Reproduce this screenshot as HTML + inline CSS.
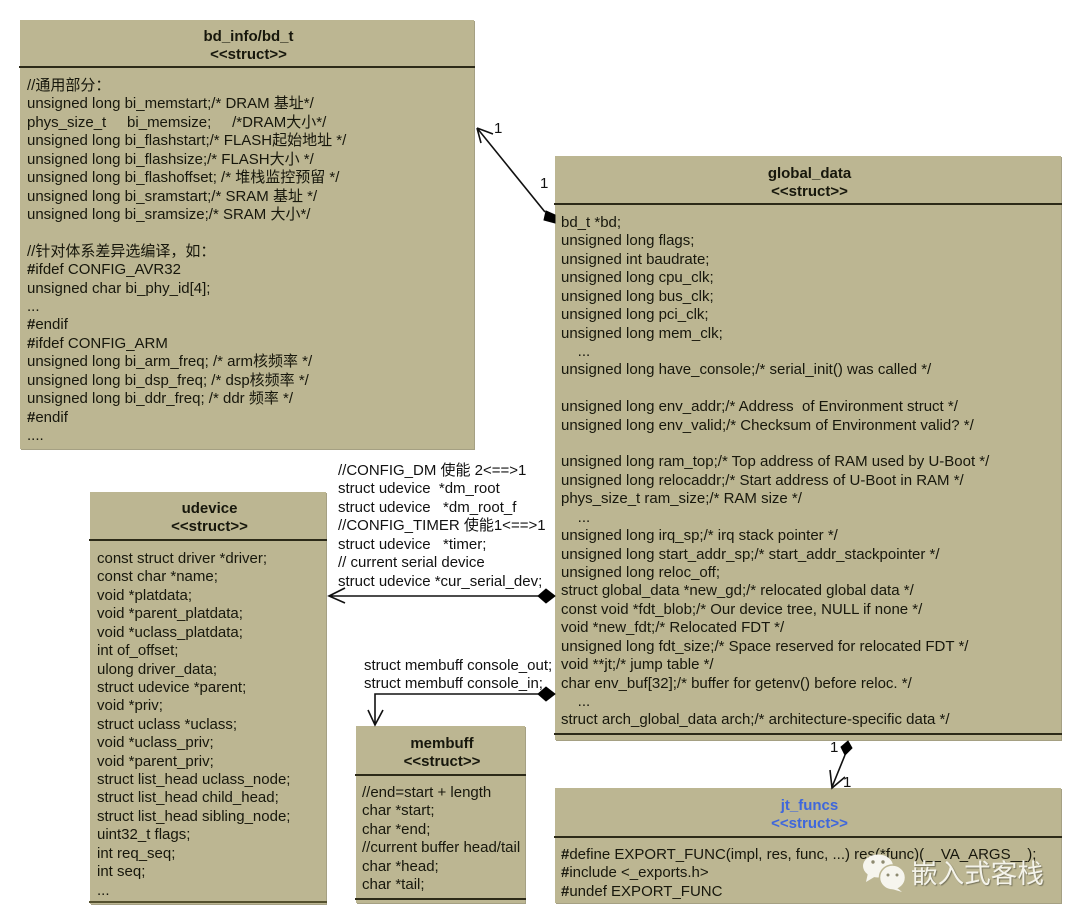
<!DOCTYPE html>
<html><head><meta charset="utf-8">
<style>
html,body{margin:0;padding:0;background:#fff}
#p{position:relative;width:1080px;height:922px;overflow:hidden;background:#fff;font-family:"Liberation Sans","Noto Sans CJK SC",sans-serif;color:#17170c}
.b{position:absolute;background:#bcb692;box-shadow:1px 1px 0 #a5a083}
.h{position:absolute;left:-1px;right:-1px;height:2px;background:#2c2a18}
.t{position:absolute;white-space:pre;font-size:15px;line-height:18.42px}
.c{position:absolute;left:3px;right:0;text-align:center;font-weight:bold;font-size:15px;line-height:18.4px;white-space:pre}
.l{position:absolute;white-space:pre;font-size:15px;line-height:18.42px;color:#111}
svg{position:absolute;left:0;top:0}
b{font-weight:bold}
</style></head><body><div id="p">

<div class="b" style="left:20px;top:20px;width:454px;height:429px">
<div class="c" style="top:8px">bd_info/bd_t
&lt;&lt;struct&gt;&gt;</div>
<div class="h" style="top:46px"></div>
<div class="t" style="left:7px;top:57px">//通用部分：
unsigned long bi_memstart;/* DRAM 基址*/
phys_size_t     bi_memsize;     /*DRAM大小*/
unsigned long bi_flashstart;/* FLASH起始地址 */
unsigned long bi_flashsize;/* FLASH大小 */
unsigned long bi_flashoffset; /* 堆栈监控预留 */
unsigned long bi_sramstart;/* SRAM 基址 */
unsigned long bi_sramsize;/* SRAM 大小*/

//针对体系差异选编译，如：
<b>#</b>ifdef CONFIG_AVR32
unsigned char bi_phy_id[4];
...
<b>#</b>endif
<b>#</b>ifdef CONFIG_ARM
unsigned long bi_arm_freq; /* arm核频率 */
unsigned long bi_dsp_freq; /* dsp核频率 */
unsigned long bi_ddr_freq; /* ddr 频率 */
<b>#</b>endif
....</div>
</div>

<div class="b" style="left:555px;top:156px;width:506px;height:584px">
<div class="c" style="top:9px">global_data
&lt;&lt;struct&gt;&gt;</div>
<div class="h" style="top:47px"></div>
<div class="t" style="left:6px;top:58px">bd_t *bd;
unsigned long flags;
unsigned int baudrate;
unsigned long cpu_clk;
unsigned long bus_clk;
unsigned long pci_clk;
unsigned long mem_clk;
    ...
unsigned long have_console;/* serial_init() was called */

unsigned long env_addr;/* Address  of Environment struct */
unsigned long env_valid;/* Checksum of Environment valid? */

unsigned long ram_top;/* Top address of RAM used by U-Boot */
unsigned long relocaddr;/* Start address of U-Boot in RAM */
phys_size_t ram_size;/* RAM size */
    ...
unsigned long irq_sp;/* irq stack pointer */
unsigned long start_addr_sp;/* start_addr_stackpointer */
unsigned long reloc_off;
struct global_data *new_gd;/* relocated global data */
const void *fdt_blob;/* Our device tree, NULL if none */
void *new_fdt;/* Relocated FDT */
unsigned long fdt_size;/* Space reserved for relocated FDT */
void **jt;/* jump table */
char env_buf[32];/* buffer for getenv() before reloc. */
    ...
struct arch_global_data arch;/* architecture-specific data */</div>
<div class="h" style="top:577px"></div>
</div>

<div class="b" style="left:90px;top:492px;width:236px;height:412px">
<div class="c" style="top:8px">udevice
&lt;&lt;struct&gt;&gt;</div>
<div class="h" style="top:47px"></div>
<div class="t" style="left:7px;top:58px">const struct driver *driver;
const char *name;
void *platdata;
void *parent_platdata;
void *uclass_platdata;
int of_offset;
ulong driver_data;
struct udevice *parent;
void *priv;
struct uclass *uclass;
void *uclass_priv;
void *parent_priv;
struct list_head uclass_node;
struct list_head child_head;
struct list_head sibling_node;
uint32_t flags;
int req_seq;
int seq;
...</div>
<div class="h" style="top:409px;background:#55512f"></div>
</div>

<div class="b" style="left:356px;top:726px;width:169px;height:177px">
<div class="c" style="top:9px">membuff
&lt;&lt;struct&gt;&gt;</div>
<div class="h" style="top:48px"></div>
<div class="t" style="left:6px;top:58px">//end=start + length
char *start;
char *end;
//current buffer head/tail
char *head;
char *tail;</div>
<div class="h" style="top:172px"></div>
</div>

<div class="b" style="left:555px;top:788px;width:506px;height:115px">
<div class="c" style="top:9px;color:#3f67dc">jt_funcs
&lt;&lt;struct&gt;&gt;</div>
<div class="h" style="top:48px"></div>
<div class="t" style="left:6px;top:58px"><b>#</b>define EXPORT_FUNC(impl, res, func, ...) res(*func)(__VA_ARGS__);
<b>#</b>include &lt;_exports.h&gt;
<b>#</b>undef EXPORT_FUNC</div>
</div>

<div class="l" style="left:338px;top:462px">//CONFIG_DM 使能 2&lt;==&gt;1
struct udevice  *dm_root
struct udevice   *dm_root_f
//CONFIG_TIMER 使能1&lt;==&gt;1
struct udevice   *timer;
// current serial device
struct udevice *cur_serial_dev;</div>
<div class="l" style="left:364px;top:657px">struct membuff console_out;
struct membuff console_in;</div>
<div class="l" style="left:494px;top:120px">1</div>
<div class="l" style="left:540px;top:175px">1</div>
<div class="l" style="left:830px;top:739px">1</div>
<div class="l" style="left:843px;top:774px">1</div>

<svg width="1080" height="922" fill="none" stroke="#111" stroke-width="1.6">
<path d="M545 212L477 128M477 128L493 134M477 128L481 143"/>
<path d="M546 211L555 215V223L544 220Z" fill="#000" stroke="#000" stroke-width="1"/>
<path d="M330 596H538M345 588L329 596L345 603"/>
<path d="M538 596L546 589L555 596L546 603Z" fill="#000" stroke="#000" stroke-width="1"/>
<path d="M538 694H375V725M368 710L375 725L383 710"/>
<path d="M538 694L546 687L555 694L546 701Z" fill="#000" stroke="#000" stroke-width="1"/>
<path d="M845 755L832 787M830 770L832 788L845 777"/>
<path d="M848 741L841 747L845 755L852 748Z" fill="#000" stroke="#000" stroke-width="1"/>
<g fill="#f6f5ee" stroke="none">
<ellipse cx="878" cy="866" rx="15" ry="11.5"/>
<path d="M868 873L866 882L876 876Z"/>
<ellipse cx="892.5" cy="877.5" rx="13" ry="12.5" stroke="#bcb692" stroke-width="1.5"/>
<path d="M896 887L902 892L892 889Z"/>
</g>
<g fill="#8d8a70" stroke="none">
<circle cx="873" cy="862" r="1.7"/><circle cx="883" cy="862" r="1.7"/>
<circle cx="888" cy="875" r="1.5"/><circle cx="897" cy="875" r="1.5"/>
</g>
</svg>
<div style="position:absolute;left:911px;top:856px;font-size:26.6px;line-height:32px;color:#f4f3ea;white-space:pre;text-shadow:1px 1px 1px #77745c;font-family:'Noto Sans CJK SC',sans-serif">嵌入式客栈</div>
</div></body></html>
